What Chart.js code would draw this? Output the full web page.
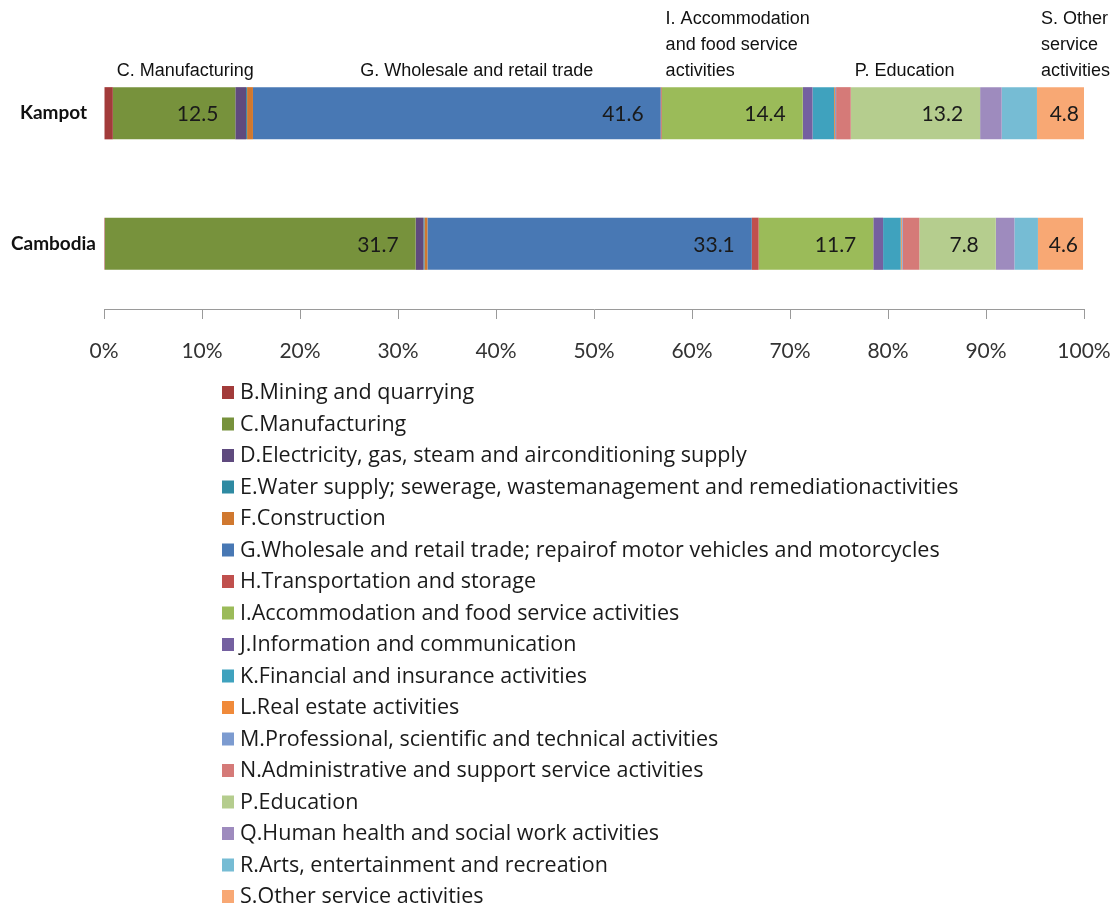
<!DOCTYPE html>
<html>
<head>
<meta charset="utf-8">
<script src="https://cdn.jsdelivr.net/npm/chart.js@4"></script>
<style>
body{margin:0;background:#fff}
</style>
</head>
<body>
<canvas id="bar-chart" width="1117" height="911"></canvas>
<script>
const regions = ["Kampot", "Cambodia"];
const sectors = [
  "B.Mining and quarrying",
  "C.Manufacturing",
  "D.Electricity, gas, steam and airconditioning supply",
  "E.Water supply; sewerage, wastemanagement and remediationactivities",
  "F.Construction",
  "G.Wholesale and retail trade; repairof motor vehicles and motorcycles",
  "H.Transportation and storage",
  "I.Accommodation and food service activities",
  "J.Information and communication",
  "K.Financial and insurance activities",
  "L.Real estate activities",
  "M.Professional, scientific and technical activities",
  "N.Administrative and support service activities",
  "P.Education",
  "Q.Human health and social work activities",
  "R.Arts, entertainment and recreation",
  "S.Other service activities"
];
const kampot   = [0.9, 12.5, 1.1, 0.1, 0.6, 41.6, 0.1, 14.4, 1.0, 2.2, 0.1, 0.1, 1.5, 13.2, 2.2, 3.6, 4.8];
const cambodia = [0.1, 31.7, 0.8, 0.1, 0.3, 33.1, 0.7, 11.7, 1.0, 1.8, 0.1, 0.1, 1.7, 7.8, 1.9, 2.4, 4.6];
const colors = ["#a23b3a", "#77923c", "#5f4a7e", "#2e8aa2", "#d0782f", "#4878b4", "#c0504d", "#9bbb59",
                "#7460a0", "#3fa2be", "#f08a3a", "#7c9bd0", "#d57a78", "#b5cd8e", "#9e8bbe", "#76bcd4", "#f8a874"];
const xTicks = [0, 10, 20, 30, 40, 50, 60, 70, 80, 90, 100];

// sectors that get a number inside the bar
const shownValues = [1, 5, 7, 13, 16];
// notes written above the Kampot bar
const noteSectors = [1, 5, 7, 13, 16];
const noteLines = [
  ["C. Manufacturing"],
  ["G. Wholesale and retail trade"],
  ["I. Accommodation", "and food service", "activities"],
  ["P. Education"],
  ["S. Other", "service", "activities"]
];
const noteAlign = ["start", "center", "start", "start", "start"];

const ctx = document.getElementById("bar-chart").getContext("2d");

const datasets = sectors.map((s, i) => ({
  label: s,
  data: [kampot[i], cambodia[i]],
  backgroundColor: colors[i],
  borderWidth: 0,
  barPercentage: 0.8,
  categoryPercentage: 0.5
}));

const valueLabels = {
  id: "valueLabels",
  afterDatasetsDraw(chart) {
    const c = chart.ctx;
    c.save();
    c.font = "21px Lato";
    c.fillStyle = "#1a1a1a";
    c.textAlign = "right";
    c.textBaseline = "middle";
    shownValues.forEach(i => {
      chart.getDatasetMeta(i).data.forEach((bar, j) => {
        const w = bar.x - bar.base;
        const off = w < 60 ? 5 : 17;
        c.fillText(chart.data.datasets[i].data[j].toFixed(1), bar.x - off, bar.y + 1);
      });
    });
    c.restore();
  }
};

const topNotes = {
  id: "topNotes",
  afterDraw(chart) {
    const c = chart.ctx;
    c.save();
    c.font = "18px 'Liberation Sans Narrow', 'Liberation Sans', sans-serif";
    c.fillStyle = "#111";
    c.textBaseline = "middle";
    noteSectors.forEach((si, k) => {
      const bar = chart.getDatasetMeta(si).data[0];
      const lines = noteLines[k];
      const widest = Math.max(...lines.map(t => c.measureText(t).width));
      let x = bar.base + 4;
      if (noteAlign[k] === "center") x = (bar.base + bar.x) / 2 - widest / 2 + 20;
      const bottom = bar.y - bar.height / 2 - 16;
      lines.forEach((t, n) => {
        c.textAlign = "left";
        c.fillText(t, x, bottom - (lines.length - 1 - n) * 26);
      });
    });
    c.restore();
  }
};

const listLegend = {
  id: "listLegend",
  afterDraw(chart) {
    const c = chart.ctx;
    c.save();
    c.font = "21.5px 'Open Sans'";
    c.textBaseline = "middle";
    c.textAlign = "left";
    sectors.forEach((s, i) => {
      const y = 393 + i * 31.5;
      c.fillStyle = colors[i];
      c.fillRect(222, y - 7, 12, 13);
      c.fillStyle = "#1a1a1a";
      c.fillText(s, 240, y);
    });
    c.restore();
  }
};

new Chart(ctx, {
  type: "bar",
  data: { labels: regions, datasets: datasets },
  plugins: [valueLabels, topNotes, listLegend],
  options: {
    responsive: false,
    animation: false,
    indexAxis: "y",
    layout: { padding: { top: 48, right: 0, bottom: 532, left: 0 } },
    plugins: {
      legend: { display: false },
      tooltip: { enabled: false }
    },
    scales: {
      x: {
        stacked: true,
        min: 0,
        max: 100,
        afterBuildTicks: axis => { axis.ticks = xTicks.map(v => ({ value: v })); },
        afterFit: axis => { axis.height = 70; axis.paddingRight = 33; },
        grid: { drawOnChartArea: false, tickLength: 10, color: "#9a9a9a" },
        border: { color: "#9a9a9a" },
        ticks: {
          padding: 20,
          color: "#333",
          font: { family: "Lato", size: 21 },
          callback: v => v + "%"
        }
      },
      y: {
        stacked: true,
        afterFit: axis => { axis.width = 104; },
        grid: { display: false },
        border: { display: false },
        ticks: {
          padding: 0,
          crossAlign: "center",
          color: "#111",
          font: { family: "Lato", size: 19, weight: "bold" }
        }
      }
    }
  }
});
</script>
</body>
</html>
